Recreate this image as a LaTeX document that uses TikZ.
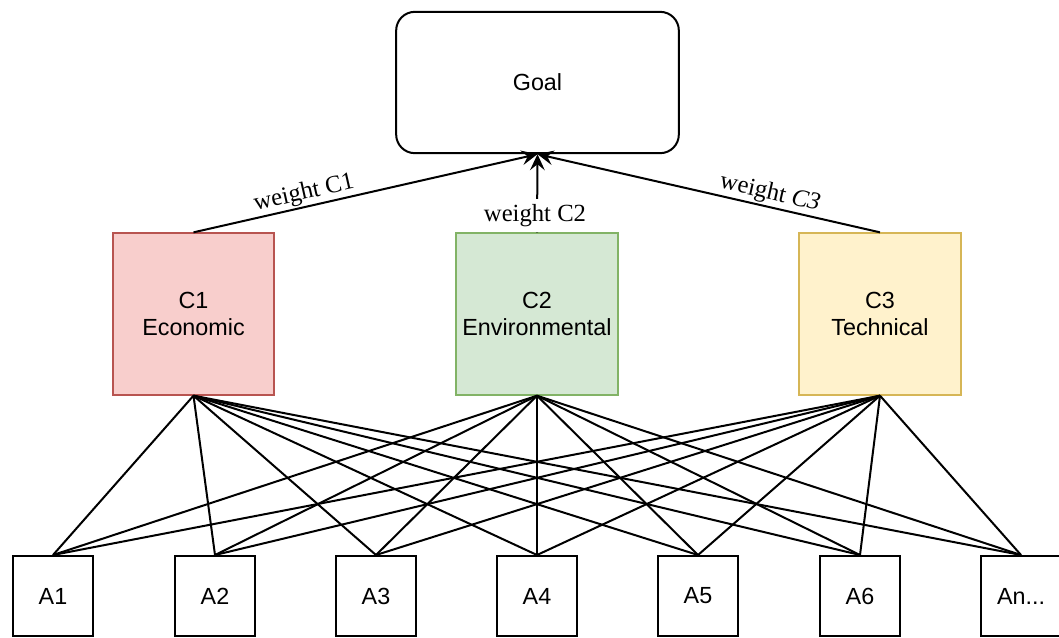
\documentclass[tikz,border=0pt]{standalone}
\usepackage{fontspec}
\setmainfont{Liberation Sans}
\newfontfamily\wfont{Liberation Serif}
\usetikzlibrary{arrows.meta}
\definecolor{redfill}{HTML}{F8CECC}
\definecolor{redline}{HTML}{B85450}
\definecolor{greenfill}{HTML}{D5E8D4}
\definecolor{greenline}{HTML}{82B366}
\definecolor{yellowfill}{HTML}{FFF2CC}
\definecolor{yellowline}{HTML}{D6B656}
\tikzset{
  base/.style={draw, line width=1.5pt, font=\fontsize{17.5}{20}\selectfont, align=center, inner sep=0pt},
  goalbox/.style={base, rounded corners=14pt, minimum width=212pt, minimum height=106pt},
  critbox/.style={base, minimum width=121pt, minimum height=121pt},
  altbox/.style={base, minimum width=60pt, minimum height=60pt},
  link/.style={line width=1.5pt},
  wlink/.style={line width=1.5pt, -{Stealth[length=12pt,width=11pt,inset=4.5pt]}},
  wlabel/.style={font=\wfont\fontsize{18.5}{20}\selectfont, inner sep=1pt}
}
\begin{document}
\begin{tikzpicture}[x=0.75pt,y=-0.75pt]
\useasboundingbox (0,0) rectangle (1059,637);
\node[goalbox] (goal) at (537.5,82.5) {Goal};
\node[critbox, fill=redfill, draw=redline] (c1) at (193.5,314) {C1\\Economic};
\node[critbox, fill=greenfill, draw=greenline] (c2) at (537,314) {C2\\Environmental};
\node[critbox, fill=yellowfill, draw=yellowline] (c3) at (880,314) {C3\\Technical};
\node[altbox] (a1) at (53,596) {A1};
\node[altbox] (a2) at (215,596) {A2};
\node[altbox] (a3) at (376,596) {A3};
\node[altbox] (a4) at (537,596) {A4};
\node[altbox] (a5) at (698,596) {A5};
\node[altbox] (a6) at (860,596) {A6};
\node[altbox] (a7) at (1021,596) {An...};
\foreach \c in {c1,c2,c3}{
  \foreach \i in {1,2,3,4,5,6,7}{
    \draw[link] (\c.south) -- (a\i.north);
  }
}
\draw[wlink] (c1.north) -- node[wlabel, pos=0.33, above, sloped] {weight C1} (goal.south);
\draw[wlink] (c3.north) -- node[wlabel, pos=0.33, above, sloped] {weight \textit{C3}} (goal.south);
\draw[wlink] (c2.north) -- (goal.south);
\node[wlabel, fill=white, anchor=south, minimum height=25pt, inner ysep=0pt] (w2) at (535,232.4) {weight C2};
\end{tikzpicture}
\end{document}
